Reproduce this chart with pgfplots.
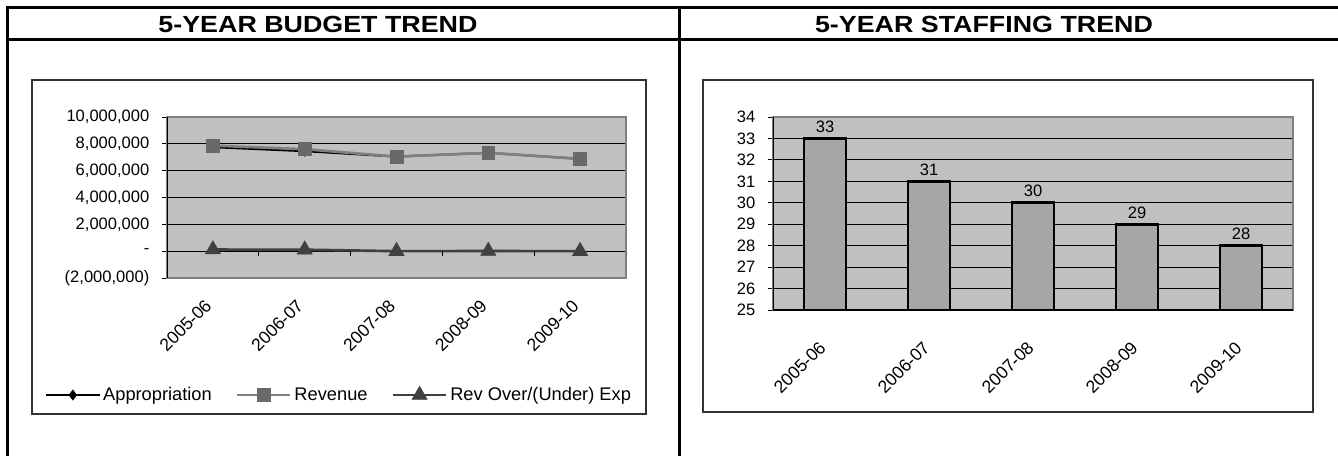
\documentclass[border=0pt]{standalone}
\usepackage{fontspec}
\setmainfont{Liberation Sans}
\newfontfamily\titlefont{Liberation Sans}[FakeStretch=1.15]
\usepackage{pgfplots}
\usepackage{pgfplotstable}
\pgfplotsset{compat=1.18}
\definecolor{plotbg}{RGB}{192,192,192}
\definecolor{bargray}{RGB}{166,166,166}
\definecolor{bordergray}{RGB}{128,128,128}
\definecolor{revline}{RGB}{128,128,128}
\definecolor{revmark}{RGB}{105,105,105}
\definecolor{darkser}{RGB}{64,64,64}
\definecolor{framecol}{RGB}{51,51,51}

\pgfplotstableread{
x app rev over
0 7750000 7870000 120000
1 7450000 7600000 110000
2 7050000 7050000 0
3 7330000 7330000 10000
4 6880000 6880000 0
}\budget

\pgfplotstableread{
x staff
0 33
1 31
2 30
3 29
4 28
}\staff

\begin{document}
\begin{tikzpicture}
\begin{scope}[x=0.75pt,y=-0.75pt,yshift=341.25pt]
\useasboundingbox (0,0) rectangle (1338,455);
\draw[line width=2.25pt] (7,470) -- (7,7) -- (1350,7);
\draw[line width=2.25pt] (7,39) -- (1350,39);
\draw[line width=2.25pt] (679,7) -- (679,470);
\draw[line width=1.1pt, framecol] (32,80) rectangle (646,414);
\draw[line width=1.1pt, framecol] (703,80) rectangle (1313,412);
\node[anchor=base, inner sep=0pt, font=\titlefont\bfseries\fontsize{17.5}{20}\selectfont] at (318,32) {5-YEAR BUDGET TREND};
\node[anchor=base, inner sep=0pt, font=\titlefont\bfseries\fontsize{17.5}{20}\selectfont] at (984,32) {5-YEAR STAFFING TREND};
\end{scope}

\begin{axis}[
  at={(125.25pt,132.75pt)}, anchor=south west,
  scale only axis, width=344.25pt, height=120.75pt,
  xmin=-0.5, xmax=4.5, ymin=-2000000, ymax=10000000,
  xtick={0,1,2,3,4},
  xticklabels={2005-06,2006-07,2007-08,2008-09,2009-10},
  ytick={-2000000,0,2000000,4000000,6000000,8000000,10000000},
  yticklabels={{(2,000,000)},{-},{2,000,000},{4,000,000},{6,000,000},{8,000,000},{10,000,000}},
  scaled y ticks=false,
  axis background/.style={fill=plotbg},
  axis line style={draw=bordergray, line width=1.5pt},
  ymajorgrids, grid style={black, line width=0.75pt},
  tick align=outside, ytick pos=left, xtick pos=bottom,
  major tick length=3.75pt,
  major x tick style={draw=none},
  y tick style={black, line width=0.75pt},
  tick label style={font=\fontsize{12.4}{14}\selectfont},
  yticklabel style={xshift=-6pt},
  xticklabel style={xshift=-6.75pt, yshift=-11.25pt, rotate=45, anchor=north east, inner sep=0pt, font=\fontsize{13.2}{15}\selectfont},
  legend columns=3,
  legend style={at={(axis description cs:-0.266,-0.727)}, anchor=west, draw=none, fill=none, inner sep=0pt,
    font=\fontsize{13.7}{16}\selectfont,
    /tikz/every even column/.append style={column sep=16pt}},
  legend image code/.code={\draw[mark repeat=2, mark phase=2, #1] plot coordinates {(0pt,0pt) (20pt,0pt) (40pt,0pt)};},
]
\addplot[black, line width=1.5pt, mark=diamond*, mark size=3.75pt, mark options={solid, fill=black, line width=0.5pt}] table[x=x,y=app]{\budget};
\addplot[revline, line width=2pt, mark=square*, mark size=4.8pt, mark options={solid, fill=revmark, draw=revmark, line width=0.5pt}] table[x=x,y=rev]{\budget};
\addplot[darkser, line width=2pt, mark=triangle*, mark size=6.5pt, mark options={solid, fill=darkser, line width=0.5pt}] table[x=x,y=over]{\budget};
\legend{Appropriation, Revenue, Rev Over/(Under) Exp}
\draw[black, line width=1pt] (rel axis cs:0,0) -- (rel axis cs:0,1);
\pgfplotsinvokeforeach{0.5,1.5,2.5,3.5,4.5}{\draw[black, line width=0.75pt] (axis cs:#1,0) -- ++(0pt,-3.75pt);}
\end{axis}

\begin{axis}[
  at={(579.75pt,108.75pt)}, anchor=south west,
  scale only axis, width=390pt, height=144.75pt,
  xmin=-0.5, xmax=4.5, ymin=25, ymax=34,
  ytick={25,26,27,28,29,30,31,32,33,34},
  xtick={0,1,2,3,4},
  xticklabels={2005-06,2006-07,2007-08,2008-09,2009-10},
  ybar, bar width=31.5pt,
  axis background/.style={fill=plotbg},
  axis line style={draw=bordergray, line width=1.5pt},
  ymajorgrids, grid style={black, line width=0.75pt},
  tick align=outside, ytick pos=left, xtick pos=bottom,
  major tick length=3.75pt,
  major x tick style={draw=none},
  y tick style={black, line width=0.75pt},
  /pgf/number format/assume math mode=true,
  tick label style={font=\fontsize{12.4}{14}\selectfont},
  yticklabel style={xshift=-6pt},
  xticklabel style={xshift=-5.25pt, yshift=-18.75pt, rotate=45, anchor=north east, inner sep=0pt, font=\fontsize{13.2}{15}\selectfont},
  nodes near coords,
  nodes near coords style={font=\fontsize{12.4}{14}\selectfont, black},
]
\addplot[fill=bargray, draw=black, line width=2pt] table[x=x,y=staff]{\staff};
\draw[black, line width=1pt] (rel axis cs:0,0) -- (rel axis cs:0,1);
\draw[black, line width=1pt] (rel axis cs:0,0) -- (rel axis cs:1,0);
\pgfplotsinvokeforeach{-0.5,0.5,1.5,2.5,3.5,4.5}{\draw[black, line width=0.75pt] (axis cs:#1,25) -- ++(0pt,-3.75pt);}
\end{axis}
\end{tikzpicture}
\end{document}
